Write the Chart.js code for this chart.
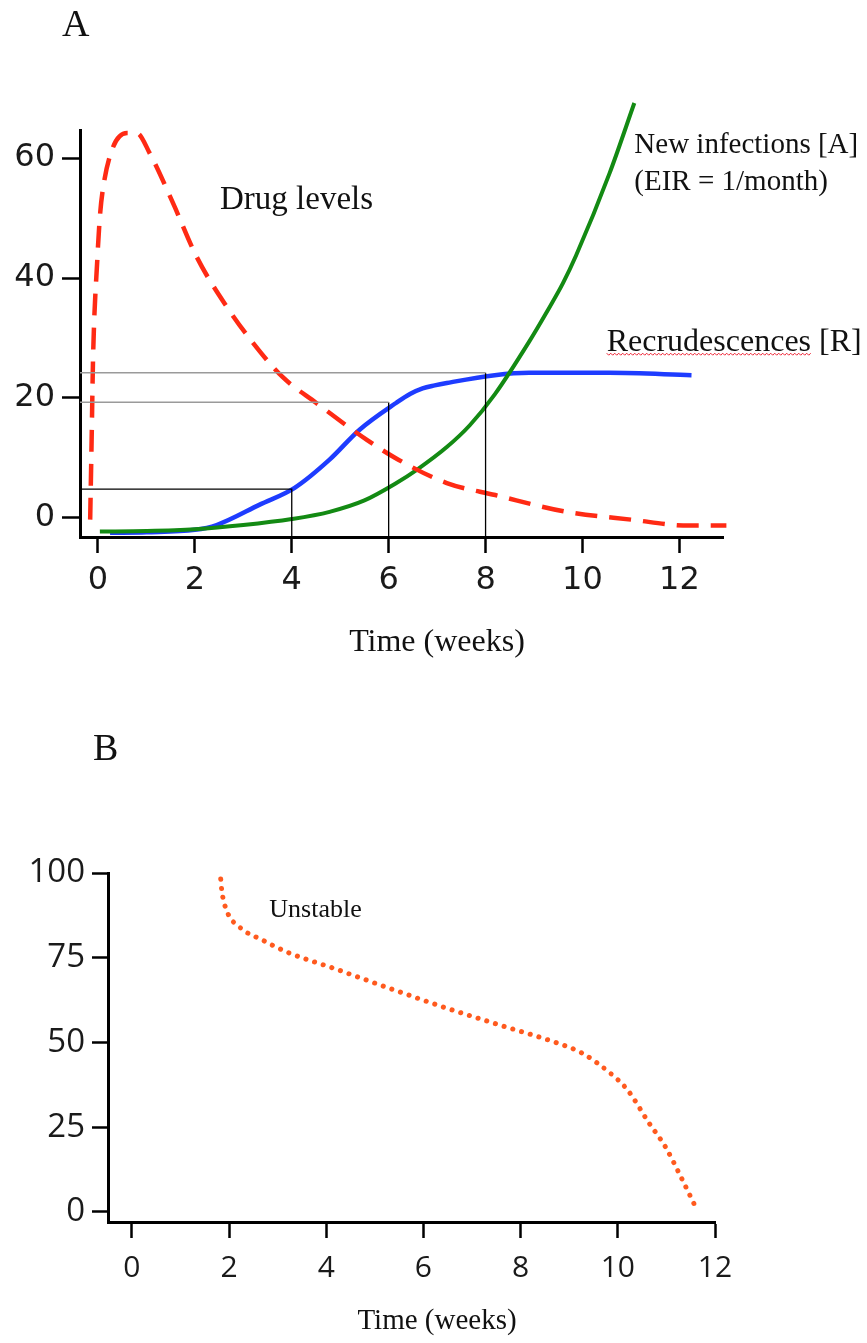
<!DOCTYPE html>
<html>
<head>
<meta charset="utf-8">
<script src="https://cdn.jsdelivr.net/npm/chart.js@4.4.1/dist/chart.umd.min.js"></script>
<style>
  body { margin: 0; background: #fff; }
  #wrap { position: relative; width: 867px; height: 1343px; }
  canvas { position: absolute; left: 0; }
  #chartA { top: 0; }
  #chartB { top: 680px; }
</style>
</head>
<body>
<div id="wrap">
  <canvas id="chartA" width="867" height="680"></canvas>
  <canvas id="chartB" width="867" height="663"></canvas>
</div>
<script>
// panel A data (time in weeks)
const weekTicks = [0, 2, 4, 6, 8, 10, 12];
const levelTicksA = [0, 20, 40, 60];

const drugWeeks = [-0.16, -0.13, -0.1, -0.01, 0.04, 0.1, 0.31, 0.6, 0.8, 1.07, 1.55, 2.04, 2.66, 3.2, 3.81, 4.5, 5.55, 6.2, 7.2, 8.2, 9.67, 11.0, 12.2, 12.97];
const drugLevels = [-0.3, 13, 26.8, 43.5, 50.2, 54.7, 61.8, 64.2, 64.2, 60.8, 52.5, 43.5, 35.2, 29.2, 23.5, 19.2, 13, 9.7, 5.8, 3.8, 1.0, -0.3, -1.3, -1.3];

const infectionWeeks = [0.04, 1.0, 2.0, 3.0, 4.0, 4.78, 5.5, 6.16, 6.58, 7.2, 7.67, 8.19, 8.9, 9.26, 9.6, 9.87, 10.56, 11.07];
const infectionLevels = [-2.3, -2.2, -1.9, -1.2, -0.2, 1.0, 2.9, 5.8, 8.0, 11.8, 15.4, 20.6, 29.4, 34.3, 39.2, 43.8, 57.5, 69.2];

const recrudWeeks = [0.25, 1.0, 2.0, 2.45, 3.34, 4.06, 4.78, 5.4, 6.16, 6.45, 6.7, 6.95, 7.2, 8.19, 8.9, 10.55, 12.25];
const recrudLevels = [-2.5, -2.4, -2.0, -1.2, 2.2, 5.0, 9.7, 14.7, 19.2, 20.7, 21.6, 22.1, 22.5, 23.8, 24.2, 24.2, 23.8];

const guideWeeks = [4, 6, 8];
const guideLevels = [4.8, 19.3, 24.2];

// panel B data
const levelTicksB = [0, 25, 50, 75, 100];
const unstableWeeks = [1.83, 1.85, 1.95, 2.22, 2.69, 3.24, 4.13, 5.28, 6.4, 7.56, 8.7, 9.26, 9.84, 10.2, 10.64, 10.98, 11.3, 11.6];
const unstableLevels = [98.2, 95, 89, 84, 80.2, 76.4, 72.0, 66.1, 60.5, 55.2, 50.1, 46.9, 41.0, 36.0, 26.3, 19.2, 10.3, 1.5];

const xMinA = -0.37, xMaxA = 12.9, yMinA = -3.2, yMaxA = 64.7;
const xMinB = -0.49, xMaxB = 12, yMinB = -2.95, yMaxB = 100;

const pts = (xs, ys) => xs.map((x, i) => ({ x: x, y: ys[i] }));

function seg(points, color, width) {
  return { data: points, borderColor: color, borderWidth: width, pointRadius: 0, tension: 0, fill: false };
}

// text drawn on top of each chart
const textPlugin = {
  id: 'texts',
  afterDraw(chart, args, opts) {
    const ctx = chart.ctx;
    const xs = chart.scales.x, ys = chart.scales.y;
    ctx.save();
    ctx.fillStyle = '#111';
    ctx.textBaseline = 'middle';
    (opts.items || []).forEach(t => {
      ctx.textAlign = t.align || 'left';
      ctx.font = t.size + 'px "Liberation Serif", "Times New Roman", serif';
      const px = t.px != null ? t.px : xs.getPixelForValue(t.week);
      const py = t.py != null ? t.py : ys.getPixelForValue(t.level);
      ctx.fillText(t.text, px, py);
      if (t.squiggle) {
        // spell-check style wavy underline
        const w = ctx.measureText(t.squiggle).width;
        ctx.strokeStyle = '#e23';
        ctx.lineWidth = 1;
        ctx.beginPath();
        for (let i = 0; i <= w; i += 2) {
          const yy = py + t.size * 0.36 + ((i / 2) % 2 ? 1.5 : -0.5);
          if (i === 0) ctx.moveTo(px + i, yy); else ctx.lineTo(px + i, yy);
        }
        ctx.stroke();
      }
    });
    ctx.restore();
  }
};

const axisCommon = (fontFamily, size, tickLen, pad) => ({
  type: 'linear',
  grid: { display: true, drawOnChartArea: false, drawTicks: true, tickLength: tickLen, tickColor: '#000', tickWidth: 2.5 },
  border: { display: true, color: '#000', width: 3 },
  ticks: { color: '#1a1a1a', font: { family: fontFamily, size: size }, padding: pad, maxRotation: 0, autoSkip: false }
});

Chart.defaults.animation = false;

new Chart(document.getElementById('chartA'), {
  type: 'line',
  data: {
    datasets: [
      seg([{ x: xMinA, y: guideLevels[2] }, { x: guideWeeks[2], y: guideLevels[2] }], '#9a9a9a', 1.5),
      seg([{ x: xMinA, y: guideLevels[1] }, { x: guideWeeks[1], y: guideLevels[1] }], '#9a9a9a', 1.5),
      seg([{ x: xMinA, y: guideLevels[0] }, { x: guideWeeks[0], y: guideLevels[0] }, { x: guideWeeks[0], y: yMinA }], '#000', 1.3),
      seg([{ x: guideWeeks[1], y: guideLevels[1] }, { x: guideWeeks[1], y: yMinA }], '#000', 1.3),
      seg([{ x: guideWeeks[2], y: guideLevels[2] }, { x: guideWeeks[2], y: yMinA }], '#000', 1.3),
      {
        label: 'Drug levels',
        data: pts(drugWeeks, drugLevels),
        borderColor: '#ff2a14', borderWidth: 4.5, borderDash: [22, 12],
        pointRadius: 0, cubicInterpolationMode: 'monotone', clip: false
      },
      {
        label: 'New infections [A]',
        data: pts(infectionWeeks, infectionLevels),
        borderColor: '#138a13', borderWidth: 4,
        pointRadius: 0, cubicInterpolationMode: 'monotone', clip: false
      },
      {
        label: 'Recrudescences [R]',
        data: pts(recrudWeeks, recrudLevels),
        borderColor: '#1e3cff', borderWidth: 4.5,
        pointRadius: 0, cubicInterpolationMode: 'monotone', clip: false
      }
    ]
  },
  options: {
    responsive: false,
    layout: { padding: { top: 130, right: 144, left: 0, bottom: 0 } },
    plugins: {
      legend: { display: false },
      tooltip: { enabled: false },
      texts: {
        items: [
          { text: 'A', px: 62, py: 26, size: 38 },
          { text: 'Drug levels', week: 2.52, level: 53, size: 33 },
          { text: 'New infections [A]', week: 11.07, level: 62.2, size: 29 },
          { text: '(EIR = 1/month)', week: 11.07, level: 56, size: 29 },
          { text: 'Recrudescences [R]', week: 10.5, level: 29.3, size: 32, squiggle: 'Recrudescences' },
          { text: 'Time (weeks)', px: 437, py: 643, size: 32, align: 'center' }
        ]
      }
    },
    scales: {
      x: Object.assign(axisCommon('DejaVu Sans', 32, 16, 8), {
        min: xMinA, max: xMaxA,
        afterBuildTicks: s => { s.ticks = weekTicks.map(v => ({ value: v })); },
        afterFit: s => { s.height = 143; }
      }),
      y: Object.assign(axisCommon('DejaVu Sans', 32, 18, 7), {
        min: yMinA, max: yMaxA,
        afterBuildTicks: s => { s.ticks = levelTicksA.map(v => ({ value: v })); },
        afterFit: s => { s.width = 80; }
      })
    }
  },
  plugins: [textPlugin]
});

new Chart(document.getElementById('chartB'), {
  type: 'line',
  data: {
    datasets: [
      {
        label: 'Unstable',
        data: pts(unstableWeeks, unstableLevels),
        borderColor: '#ff5a1e', borderWidth: 5, borderDash: [0.1, 9], borderCapStyle: 'round',
        pointRadius: 0, cubicInterpolationMode: 'monotone', clip: false
      }
    ]
  },
  options: {
    responsive: false,
    layout: { padding: { top: 193, right: 152, left: 0, bottom: 0 } },
    plugins: {
      legend: { display: false },
      tooltip: { enabled: false },
      texts: {
        items: [
          { text: 'B', px: 93, py: 70, size: 38 },
          { text: 'Unstable', week: 2.83, level: 89.1, size: 26 },
          { text: 'Time (weeks)', px: 437, py: 641, size: 29, align: 'center' }
        ]
      }
    },
    scales: {
      x: Object.assign(axisCommon('Open Sans', 30, 16, 12), {
        min: xMinB, max: xMaxB,
        afterBuildTicks: s => { s.ticks = weekTicks.map(v => ({ value: v })); },
        afterFit: s => { s.height = 121; }
      }),
      y: Object.assign(axisCommon('Open Sans', 33, 16, 7), {
        min: yMinB, max: yMaxB,
        afterBuildTicks: s => { s.ticks = levelTicksB.map(v => ({ value: v })); },
        afterFit: s => { s.width = 108; }
      })
    }
  },
  plugins: [textPlugin]
});
</script>
</body>
</html>
